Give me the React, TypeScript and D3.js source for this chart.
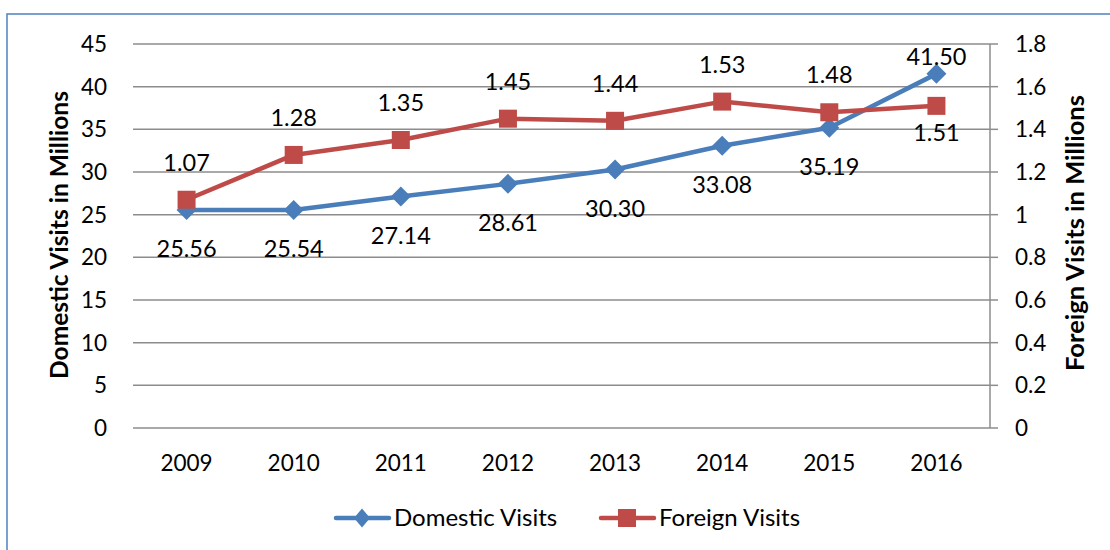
import React from "react";
import * as d3 from "d3";

const years = ["2009", "2010", "2011", "2012", "2013", "2014", "2015", "2016"];
const domestic = [25.56, 25.54, 27.14, 28.61, 30.3, 33.08, 35.19, 41.5];
const foreign = [1.07, 1.28, 1.35, 1.45, 1.44, 1.53, 1.48, 1.51];
const domesticLabelSide = ["below", "below", "below", "below", "below", "below", "below", "above"];
const foreignLabelSide = ["above", "above", "above", "above", "above", "above", "above", "below"];
const leftTicks = [0, 5, 10, 15, 20, 25, 30, 35, 40, 45];
const rightTicks = [0, 0.2, 0.4, 0.6, 0.8, 1, 1.2, 1.4, 1.6, 1.8];

const W = 1110;
const H = 550;
const M = { left: 133, right: 990, top: 44, bottom: 428 };
const FONT = "Lato, 'Open Sans', sans-serif";
const BLUE = "#4A7EBB";
const RED = "#BE4B48";
const GRID = "#8C8C8C";
const FS = 22.5;
const FSL = 23.5;

export default function App() {
  const x = d3.scaleBand<string>().domain(years).range([M.left, M.right]);
  const yL = d3.scaleLinear().domain([0, 45]).range([M.bottom, M.top]);
  const yR = d3.scaleLinear().domain([0, 1.8]).range([M.bottom, M.top]);
  const cx = (y: string) => (x(y) as number) + x.bandwidth() / 2;

  const lineD = d3
    .line<number>()
    .x((_, i) => cx(years[i]))
    .y((d) => yL(d))(domestic) as string;
  const lineF = d3
    .line<number>()
    .x((_, i) => cx(years[i]))
    .y((d) => yR(d))(foreign) as string;

  const diamond = (px: number, py: number, rx: number, ry: number) =>
    `M${px},${py - ry}L${px + rx},${py}L${px},${py + ry}L${px - rx},${py}Z`;

  const fmtR = (v: number) => (v === 0 || v === 1 ? String(v) : v.toFixed(1));

  return (
    <svg
      width={W}
      height={H}
      style={{ position: "absolute", left: 0, top: 0, background: "#fff" }}
      fontFamily={FONT}
    >
      <rect x={7} y={14} width={W} height={H} fill="#fff" stroke="#4F81BD" strokeWidth={1.5} />
      {/* gridlines */}
      {leftTicks.map((t) => (
        <line key={"g" + t} x1={M.left} x2={M.right} y1={yL(t)} y2={yL(t)} stroke={GRID} strokeWidth={1.5} />
      ))}
      {/* right axis */}
      <line x1={M.right} x2={M.right} y1={M.top} y2={M.bottom} stroke={GRID} strokeWidth={1.5} />
      {rightTicks.map((t) => (
        <line key={"rt" + t} x1={M.right} x2={M.right + 8} y1={yR(t)} y2={yR(t)} stroke={GRID} strokeWidth={1.5} />
      ))}
      {/* left tick labels */}
      {leftTicks.map((t) => (
        <text key={"lt" + t} x={107} y={yL(t)} dy="0.35em" textAnchor="end" fontSize={FS} fill="#000">
          {t}
        </text>
      ))}
      {rightTicks.map((t) => (
        <text key={"rl" + t} x={1015} y={yR(t)} dy="0.35em" textAnchor="start" fontSize={FS} fill="#000">
          {fmtR(t)}
        </text>
      ))}
      {/* x labels */}
      {years.map((yv) => (
        <text key={"x" + yv} x={cx(yv)} y={463} dy="0.35em" textAnchor="middle" fontSize={FS} fill="#000">
          {yv}
        </text>
      ))}
      {/* axis titles */}
      <text
        transform={`translate(59,235) rotate(-90)`}
        textAnchor="middle"
        dy="0.35em"
        fontSize={24.5}
        fontWeight="bold"
        fill="#000"
      >
        Domestic Visits in Millions
      </text>
      <text
        transform={`translate(1075,233) rotate(-90)`}
        textAnchor="middle"
        dy="0.35em"
        fontSize={25.5}
        fontWeight="bold"
        fill="#000"
      >
        Foreign Visits in Millions
      </text>
      {/* lines */}
      <path d={lineD} fill="none" stroke={BLUE} strokeWidth={4.5} strokeLinejoin="round" />
      <path d={lineF} fill="none" stroke={RED} strokeWidth={4.5} strokeLinejoin="round" />
      {domestic.map((v, i) => (
        <path key={"dm" + i} d={diamond(cx(years[i]), yL(v), 10, 10)} fill={BLUE} />
      ))}
      {foreign.map((v, i) => (
        <rect key={"fm" + i} x={cx(years[i]) - 9} y={yR(v) - 9} width={18} height={18} fill={RED} />
      ))}
      {/* data labels */}
      {domestic.map((v, i) => (
        <text
          key={"dl" + i}
          x={cx(years[i])}
          y={yL(v) + (domesticLabelSide[i] === "below" ? 39 : -17)}
          dy="0.35em"
          textAnchor="middle"
          fontSize={FSL}
          fill="#000"
        >
          {v.toFixed(2)}
        </text>
      ))}
      {foreign.map((v, i) => (
        <text
          key={"fl" + i}
          x={cx(years[i])}
          y={yR(v) + (foreignLabelSide[i] === "above" ? -37 : 27)}
          dy="0.35em"
          textAnchor="middle"
          fontSize={FSL}
          fill="#000"
        >
          {v.toFixed(2)}
        </text>
      ))}
      {/* legend */}
      <g>
        <line x1={336} x2={389} y1={518} y2={518} stroke={BLUE} strokeWidth={4.5} strokeLinecap="round" />
        <path d={diamond(362, 518, 8, 9.5)} fill={BLUE} />
        <text x={394} y={518} dy="0.35em" fontSize={24} fill="#000">
          Domestic Visits
        </text>
        <line x1={601} x2={654} y1={518} y2={518} stroke={RED} strokeWidth={4.5} strokeLinecap="round" />
        <rect x={618} y={509} width={18} height={18} fill={RED} />
        <text x={659} y={518} dy="0.35em" fontSize={24} fill="#000">
          Foreign Visits
        </text>
      </g>
    </svg>
  );
}
